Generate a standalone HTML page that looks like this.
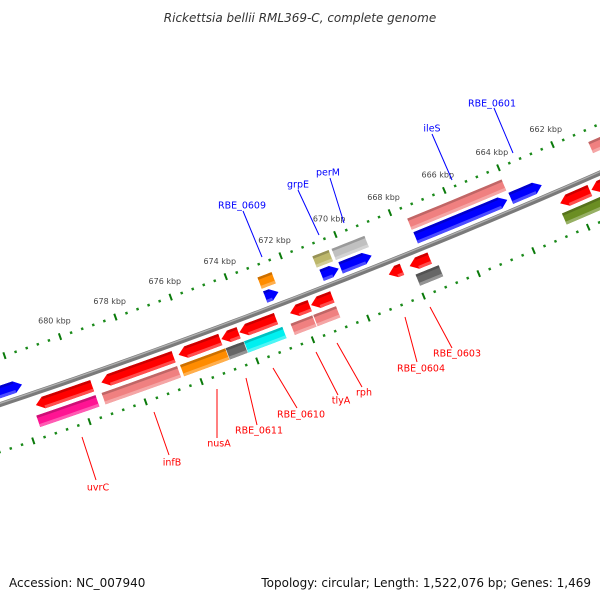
<!DOCTYPE html>
<html><head><meta charset="utf-8"><style>
html,body{margin:0;padding:0;background:#fff;}
svg{display:block;}
text{font-family:"DejaVu Sans","Liberation Sans",sans-serif;}
</style></head><body>
<svg id="map" width="600" height="600" viewBox="0 0 600 600" xmlns="http://www.w3.org/2000/svg">
<rect width="600" height="600" fill="#fff"/>
<text x="300" y="22" text-anchor="middle" font-size="12" font-style="italic" fill="#333">Rickettsia bellii RML369-C, complete genome</text>
<g id="ticks"></g>
<g id="backbone"></g>
<g id="features"></g>
<g id="labels"></g>
<text x="9" y="587" font-size="12" fill="#111">Accession: NC_007940</text>
<text x="591" y="587" text-anchor="end" font-size="12" fill="#111">Topology: circular; Length: 1,522,076 bp; Genes: 1,469</text>
</svg>
<script>
// ---- data ----
const genomeKbp = 1522.076;
const tickMajorKbp = [662,664,666,668,670,672,674,676,678,680];
const tickLabels = ["662 kbp","664 kbp","666 kbp","668 kbp","670 kbp","672 kbp","674 kbp","676 kbp","678 kbp","680 kbp"];
const featStart = [683.6,672.99,670.94,670.25,667.51,664.02, 673.0,671.0,670.3,667.53,660.85,
  681.53,679.19,676.42,674.88,674.23,672.4,671.64,668.82,668.06,662.55,661.40,
  681.63,679.3,676.49,674.85,674.19,672.51,671.69,667.98,662.63];
const featEnd = [681.75,672.51,670.32,669.12,664.15,662.88, 672.49,670.41,669.1,664.06,659.0,
  679.52,676.6,674.92,674.26,672.91,671.69,670.87,668.34,667.33,661.46,659.5,
  679.52,676.6,674.87,674.21,672.81,671.73,670.87,667.14,660.0];
const featTrack = [-12,-12,-12,-12,-12,-12, -27,-27,-27,-27,-27,
  12,12,12,12,12,12,12,12,12,12,12,
  28,28,28,28,28,28,28,28,28];
const featDir = [-1,-1,-1,-1,-1,-1, 0,0,0,0,0,
  1,1,1,1,1,1,1,1,1,1,1,
  0,0,0,0,0,0,0,0,0];
const featColor = ["#0000ff","#0000ff","#0000ff","#0000ff","#0000ff","#0000ff",
  "#ff8c00","#bdb76b","#c0c0c0","#f08080","#f08080",
  "#ff0000","#ff0000","#ff0000","#ff0000","#ff0000","#ff0000","#ff0000","#ff0000","#ff0000","#ff0000","#ff0000",
  "#ff1493","#f08080","#ff8c00","#666666","#00f0f0","#f08080","#f08080","#666666","#6b8e23"];
const geneNames = ["RBE_0609","grpE","perM","ileS","RBE_0601","uvrC","infB","nusA","RBE_0611","RBE_0610","tlyA","rph","RBE_0604","RBE_0603"];
const geneStrand = [1,1,1,1,1,-1,-1,-1,-1,-1,-1,-1,-1,-1];
// label layout (pixel placement of annotation text and leader lines)
const labelTextPos = [[242,205],[298,184],[328,172],[432,128],[492,103],[98,487],[172,462],[219,443],[259,430],[301,414],[341,400],[364,392],[421,368],[457,353]];
const labelLine = [[243,211,262,257],[298,190,319,235],[330,178,344,223],[432,134,452,180],[494,108,513,153],
  [82,437,96,480],[154,412,169,455],[217,389,217,438],[246,378,257,425],[273,368,297,408],[316,352,338,395],[337,343,362,387],[405,317,417,362],[430,307,452,348]];

// ---- geometry ----
const CX=-2276, CY=-6384, RB=7160;
const NS="http://www.w3.org/2000/svg";
function ang(k){return (k/genomeKbp*360-90)*Math.PI/180;}
function pt(k,r){const a=ang(k);return [CX+r*Math.cos(a),CY+r*Math.sin(a)];}
function kPerPx(r){return 1/(r*(Math.PI/180)*360/genomeKbp);}
function arcPts(k1,k2,r,n){const a=[];for(let i=0;i<=n;i++){a.push(pt(k1+(k2-k1)*i/n,r));}return a;}
function poly(pts){return pts.map(p=>p[0].toFixed(2)+","+p[1].toFixed(2)).join(" ");}
function mk(tag,attrs,parent){const e=document.createElementNS(NS,tag);for(const k in attrs)e.setAttribute(k,attrs[k]);parent.appendChild(e);return e;}

// ---- tick rings ----
const gT=document.getElementById('ticks');
[RB-45,RB+45].forEach((r,ri)=>{
  for(let k=658;k<=686.001;k+=0.4){
    const kk=Math.round(k*10)/10;
    const major=Math.abs(kk/2-Math.round(kk/2))<1e-6;
    const len=major?7:2.5;
    const p1=pt(kk,r-len/2),p2=pt(kk,r+len/2);
    const ln=mk('line',{x1:p1[0],y1:p1[1],x2:p2[0],y2:p2[1],stroke:major?'#0a7a0a':'#1a8a1a','stroke-width':major?2:2.4},gT);
    
    
  }
});
tickMajorKbp.forEach((k,i)=>{
  const p=pt(k,RB-62);
  const t=mk('text',{x:p[0],y:p[1]+3,'text-anchor':'middle','font-size':8,fill:'#444'},gT);
  t.textContent=tickLabels[i];
  
  
});

// ---- backbone ----
const gB=document.getElementById('backbone');
const bb=mk('polyline',{points:poly(arcPts(658,686,RB,60)),fill:'none',stroke:'#7a7a7a','stroke-width':5},gB);


const bh=mk('polyline',{points:poly(arcPts(658,686,RB-1.2,60)),fill:'none',stroke:'#b0b0b0','stroke-width':1.3},gB);



// ---- features ----
function shade(hex,f){let n=parseInt(hex.slice(1),16);let r=n>>16,g=(n>>8)&255,b=n&255;
  if(f>0){r+=(255-r)*f;g+=(255-g)*f;b+=(255-b)*f;}else{r*=1+f;g*=1+f;b*=1+f;}
  return 'rgb('+Math.round(r)+','+Math.round(g)+','+Math.round(b)+')';}
const gF=document.getElementById('features');
const H=12, HEAD=8;
for(let i=0;i<featStart.length;i++){
  const k1=Math.min(featStart[i],featEnd[i]), k2=Math.max(featStart[i],featEnd[i]);
  const r=RB+featTrack[i], ri=r-H/2, ro=r+H/2, d=featDir[i], col=featColor[i];
  const hk=Math.min(HEAD*kPerPx(r),(k2-k1)*0.6);
  let pts, bodyA=k1, bodyB=k2;
  if(d===-1){ bodyA=k1+hk;
    pts=[].concat(arcPts(bodyA,k2,ri,6),arcPts(k2,bodyA,ro,6),[pt(k1,r)]);
  } else if(d===1){ bodyB=k2-hk;
    pts=[].concat(arcPts(k1,bodyB,ri,6),[pt(k2,r)],arcPts(bodyB,k1,ro,6));
  } else {
    pts=[].concat(arcPts(k1,k2,ri,6),arcPts(k2,k1,ro,6));
  }
  const g=mk('g',{},gF);
  
  
  mk('polygon',{points:poly(pts),fill:col},g);
  const top=[].concat(arcPts(bodyA,bodyB,ri,6),arcPts(bodyB,bodyA,ri+2.5,6));
  mk('polygon',{points:poly(top),fill:shade(col,-0.2)},g);
  const bot=[].concat(arcPts(bodyA,bodyB,ro-3,6),arcPts(bodyB,bodyA,ro,6));
  mk('polygon',{points:poly(bot),fill:shade(col,0.3)},g);
}

// ---- labels ----
const gL=document.getElementById('labels');
geneNames.forEach((n,i)=>{
  const c=geneStrand[i]>0?'#0000ff':'#ff0000';
  const L=labelLine[i];
  const ln=mk('line',{x1:L[0],y1:L[1],x2:L[2],y2:L[3],stroke:c,'stroke-width':1},gL);
  
  
  const p=labelTextPos[i];
  const t=mk('text',{x:p[0],y:p[1]+3.5,'text-anchor':'middle','font-size':9.5,fill:c},gL);
  t.textContent=n;
  
  
});
</script>
</body></html>
